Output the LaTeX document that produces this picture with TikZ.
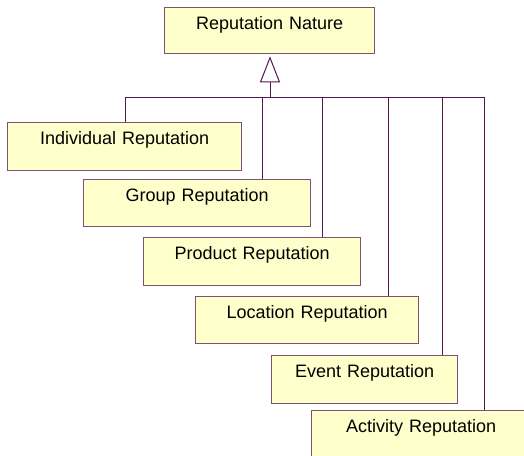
\documentclass[tikz,border=0pt]{standalone}
\usepackage{fontspec}
\setmainfont{Liberation Sans}
\usetikzlibrary{arrows.meta}
\definecolor{boxfill}{RGB}{255,255,204}
\definecolor{boxline}{RGB}{125,80,120}
\definecolor{wire}{RGB}{85,20,80}
\tikzset{
  umlbox/.style={draw=boxline, fill=boxfill, line width=1.3pt, anchor=north west,
    inner xsep=0pt, inner ysep=0pt, text height=22pt, align=center,
    font=\fontsize{18}{20}\selectfont},
  wireline/.style={draw=wire, line width=1pt},
}
\begin{document}
\begin{tikzpicture}[x=1pt,y=-1pt]
\useasboundingbox (0,0) rectangle (524,455);
\clip (0,0) rectangle (524,455);
\fill[white] (0,0) rectangle (524,455);
\node[umlbox, minimum width=210pt, text depth=24pt, text width=210pt] (top) at (164,7) {Reputation Nature};
\node[umlbox, minimum width=234pt, text depth=26pt, text width=234pt] (ind) at (7,122) {Individual Reputation};
\node[umlbox, minimum width=227pt, text depth=25pt, text width=227pt] (grp) at (83,179) {Group Reputation};
\node[umlbox, minimum width=217pt, text depth=26pt, text width=217pt] (prd) at (143,237) {Product Reputation};
\node[umlbox, minimum width=223pt, text depth=25pt, text width=223pt] (loc) at (195,296) {Location Reputation};
\node[umlbox, minimum width=186pt, text depth=26pt, text width=186pt] (evt) at (271,355) {Event Reputation};
\node[umlbox, minimum width=259pt, text depth=30pt, text width=259pt] (act) at (311,410) {\hspace*{-40pt}Activity Reputation};
\coordinate (hub) at (270,97);
\coordinate (si) at (125,97);
\coordinate (sg) at (262,97);
\coordinate (sp) at (322,97);
\coordinate (sl) at (388,97);
\coordinate (se) at (442,97);
\coordinate (sa) at (484,97);
\draw[wireline, -{Triangle[open, length=26pt, width=20pt, line width=1pt]}, shorten >=2pt] (hub) -- (hub |- top.south);
\draw[wireline] (si) -- (sa);
\draw[wireline] (si) -- (si |- ind.north);
\draw[wireline] (sg) -- (sg |- grp.north);
\draw[wireline] (sp) -- (sp |- prd.north);
\draw[wireline] (sl) -- (sl |- loc.north);
\draw[wireline] (se) -- (se |- evt.north);
\draw[wireline] (sa) -- (sa |- act.north);
\end{tikzpicture}
\end{document}
